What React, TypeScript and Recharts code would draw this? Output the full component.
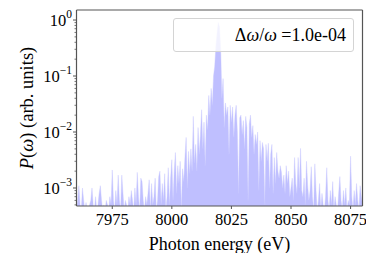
import { ComposedChart, Area, XAxis, YAxis, ReferenceLine } from 'recharts';

const E_START = 7960;
const E_STEP = 0.5;

// P(omega) in 0.5 eV steps
const tailLow = [
  4e-4, 6e-4, 1.1e-3, 5e-4, 4e-4, 1.0e-3, 6e-4, 4e-4, 5.5e-4, 4e-4,
  4e-4, 5e-4, 6e-4, 1.0e-3, 5e-4, 4e-4, 7e-4, 4e-4, 5e-4, 8e-4,
  1.1e-3, 6e-4, 4e-4, 5e-4, 4e-4, 6e-4, 5e-4, 4e-4, 7e-4, 5e-4,
  2.1e-3, 6e-4, 4e-4, 9e-4, 5e-4, 1.7e-3, 6e-4, 4e-4, 1.7e-3, 8e-4,
  4e-4, 6e-4, 5e-4, 4e-4, 7e-4, 5e-4, 9e-4, 6e-4, 4e-4, 1.0e-3,
  5e-4, 1.9e-3, 7e-4, 4e-4, 1.5e-3, 1.3e-3, 6e-4, 4e-4, 7e-4, 5e-4,
];
const riseSide = [
  8e-4, 1.4e-3, 4e-4, 1.2e-3, 5e-4, 7e-4, 1.5e-3, 4e-4, 6e-4, 1.6e-3,
  2.0e-3, 5e-4, 1.2e-3, 6e-4, 1.8e-3, 4e-4, 7e-4, 2.3e-3, 5e-4, 1.5e-3,
  3.2e-3, 6e-4, 2.0e-3, 4.3e-3, 8e-4, 2.5e-3, 1.2e-3, 3.0e-3, 4e-4, 2.2e-3,
  1.3e-3, 3.5e-3, 8.0e-3, 1.0e-3, 4.5e-3, 1.8e-3, 5.0e-3, 2.0e-3, 0.019, 2.8e-3,
  6e-3, 2.0e-3, 0.012, 4e-3, 9e-3, 0.025, 5e-3, 0.015, 2.5e-3, 0.02,
];
const peakCore = [
  0.011, 0.045, 0.02, 0.06, 0.03, 0.1, 0.15, 0.35, 0.6, 0.9,
  0.75, 0.3, 0.04, 0.09, 0.012, 0.033, 0.02, 0.028, 0.004, 0.03,
];
const fallSide = [
  0.015, 0.028, 0.008, 0.02, 0.03, 0.01, 0.0008, 0.018, 0.02, 0.009,
  0.016, 0.005, 0.019, 0.012, 0.0006, 0.014, 0.02, 0.008, 0.013, 0.004,
  0.009, 0.006, 0.01, 0.0009, 0.007, 0.003, 0.0065, 0.005, 0.0005, 0.006,
  0.003, 0.0063, 0.001, 0.004, 0.006, 0.0008, 0.0035, 0.0012, 0.0043, 0.002,
  0.0015, 0.0025, 0.0019, 0.001, 0.0017, 0.0008, 0.0025, 0.0012, 0.002, 0.0007,
];
const tailHigh = [
  0.001, 0.0015, 0.0006, 0.0035, 0.0012, 0.0008, 0.0035, 0.001, 0.0051, 0.0009,
  0.0007, 0.0015, 0.0005, 0.003, 0.0011, 0.0006, 0.0009, 0.0024, 0.0007, 0.0004,
  0.0027, 0.0009, 0.0004, 0.0006, 0.0012, 0.0004, 0.0008, 0.0005, 0.0004, 0.0007,
  0.0023, 0.0006, 0.0004, 0.0009, 0.0005, 0.0013, 0.0004, 0.0007, 0.0005, 0.0004,
  0.0008, 0.0016, 0.0006, 0.0004, 0.0009, 0.0005, 0.001, 0.0004, 0.0006, 0.0005,
  0.0037, 0.0007, 0.0004, 0.0009, 0.0005, 0.0012, 0.0006, 0.0004, 0.0011, 0.0007, 0.0005,
];

const power = [...tailLow, ...riseSide, ...peakCore, ...fallSide, ...tailHigh];
const data = power.map((p, i) => ({ E: E_START + i * E_STEP, P: p }));

const xTicks = [7975, 8000, 8025, 8050, 8075];
const yMajor = [1e-3, 1e-2, 1e-1, 1];
const yMinor = [
  5e-4, 6e-4, 7e-4, 8e-4, 9e-4,
  2e-3, 3e-3, 4e-3, 5e-3, 6e-3, 7e-3, 8e-3, 9e-3,
  2e-2, 3e-2, 4e-2, 5e-2, 6e-2, 7e-2, 8e-2, 9e-2,
  0.2, 0.3, 0.4, 0.5, 0.6, 0.7, 0.8, 0.9,
];
const Y_MIN = 4.77e-4;
const Y_MAX = 1.51;

const FONT = 'Liberation Serif';
const AXIS = '#555';

function YTick({ x, y, payload }: any) {
  const v = payload.value;
  const major = yMajor.includes(v);
  if (!major) {
    return <line x1={x - 2} x2={x} y1={y} y2={y} stroke={AXIS} strokeWidth={0.8} />;
  }
  const exp = Math.round(Math.log10(v));
  return (
    <g>
      <line x1={x - 3.5} x2={x} y1={y} y2={y} stroke={AXIS} strokeWidth={1} />
      <text x={x - 4.5} y={y + 6} textAnchor="end" fontFamily={FONT} fontSize={16.5} fill="#000">
        <tspan>10</tspan>
        <tspan dy={-8} fontSize={11.5}>{exp < 0 ? '\u2212' + -exp : String(exp)}</tspan>
      </text>
    </g>
  );
}

function XTick({ x, y, payload }: any) {
  return (
    <g>
      <line x1={x} x2={x} y1={y} y2={y + 3} stroke={AXIS} strokeWidth={1} />
      <text x={x} y={y + 19} textAnchor="middle" fontFamily={FONT} fontSize={16.5} fill="#000">
        {payload.value}
      </text>
    </g>
  );
}

function YLabel({ viewBox }: any) {
  const cx = 19;
  const cy = viewBox.y + viewBox.height / 2;
  return (
    <text
      x={cx}
      y={cy}
      transform={`rotate(-90, ${cx}, ${cy})`}
      textAnchor="middle"
      dominantBaseline="central"
      fontFamily={FONT}
      fontSize={18.5}
      fill="#000"
    >
      <tspan fontStyle="italic">P</tspan>(<tspan fontStyle="italic">ω</tspan>) (arb. units)
    </text>
  );
}

export default function App() {
  return (
    <div style={{ position: 'relative', width: 366, height: 245 }}>
      <ComposedChart width={366} height={245} data={data} margin={{ top: 2, right: 11.5, bottom: 0, left: 0 }}>
        <XAxis
          dataKey="E"
          type="number"
          domain={[7960, 8080]}
          ticks={xTicks}
          interval={0}
          height={47}
          tickSize={0}
          tickMargin={0}
          tickLine={false}
          axisLine={{ stroke: AXIS, strokeWidth: 1.2 }}
          tick={<XTick />}
          label={{ value: 'Photon energy (eV)', position: 'insideBottom', offset: 3, fill: '#000', fontSize: 18, fontFamily: FONT }}
        />
        <YAxis
          scale="log"
          type="number"
          domain={[Y_MIN, Y_MAX]}
          allowDataOverflow
          ticks={[...yMajor, ...yMinor]}
          interval={0}
          width={68.5}
          tickSize={0}
          tickMargin={0}
          tickLine={false}
          axisLine={{ stroke: AXIS, strokeWidth: 1.2 }}
          tick={<YTick />}
          label={<YLabel />}
        />
        <Area
          dataKey="P"
          type="linear"
          baseValue={Y_MIN}
          fill="#bfbfff"
          fillOpacity={1}
          stroke="#c8c8ff"
          strokeWidth={0.4}
          isAnimationActive={false}
        />
        <ReferenceLine y={Y_MAX} stroke={AXIS} strokeWidth={1.2} />
        <ReferenceLine x={8080} stroke={AXIS} strokeWidth={1.2} />
      </ComposedChart>
      <div
        style={{
          position: 'absolute',
          left: 165,
          top: 10,
          width: 181,
          height: 34,
          boxSizing: 'border-box',
          border: '1px solid #d4d4d4',
          borderRadius: 3,
          background: 'rgba(255,255,255,0.8)',
          display: 'flex',
          alignItems: 'center',
          justifyContent: 'flex-end',
          paddingRight: 7,
          fontFamily: FONT,
          fontSize: 18,
          color: '#000',
        }}
      >
        <span>
          Δ<i>ω</i>/<i>ω</i> =1.0e-04
        </span>
      </div>
    </div>
  );
}
